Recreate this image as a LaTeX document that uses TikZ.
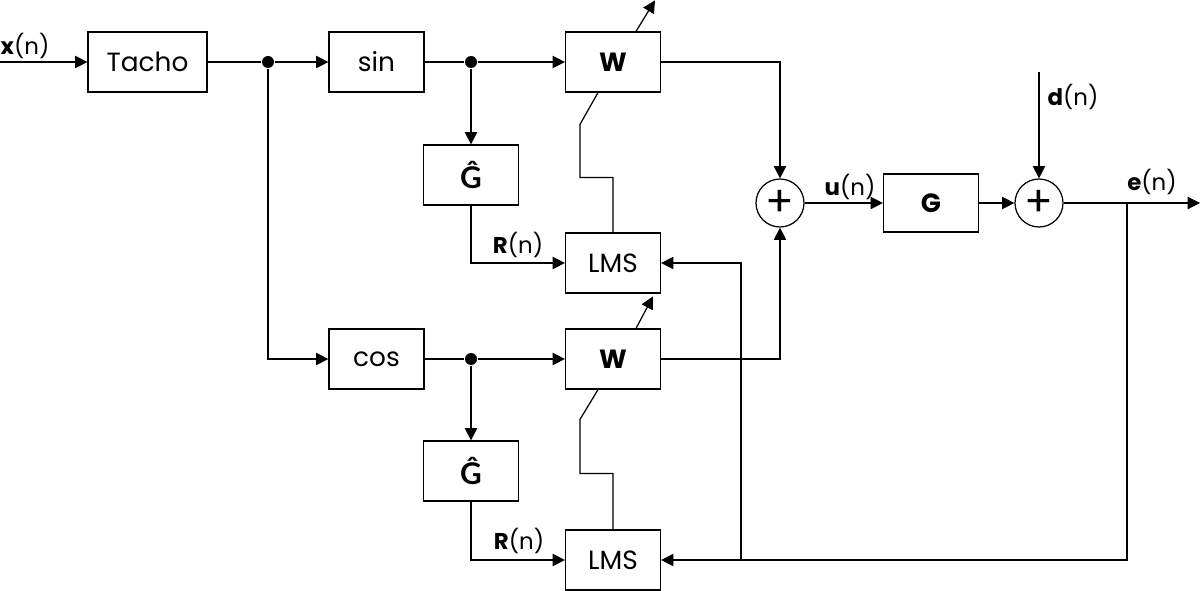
\documentclass[tikz,border=0pt]{standalone}
\usepackage{fontspec}
\setmainfont{Poppins}
\newfontfamily\chapfont{Lato}
\usetikzlibrary{shapes}
\usetikzlibrary{arrows.meta}
\usetikzlibrary{calc}
\tikzset{
	bloc/.style = {rectangle, draw=black, fill=white, align=center, inner sep=0pt,
		minimum width=1.9cm, minimum height=1.2cm, font=\fontsize{15}{18}\selectfont},% bloc simple
	bloc_l/.style = {bloc, minimum width=2.38cm},% bloc large (tachymetre)
	somme/.style = {circle, draw=black, fill=white, inner sep=0pt, minimum size=0.96cm,
		font=\fontsize{24}{26}\selectfont},% sommateur
	pt/.style = {circle, fill=black, inner sep=0pt, minimum size=0.24cm},% point de branchement
	lbl/.style = {inner sep=0pt, font=\fontsize{13}{16}\selectfont}% etiquette de signal
}

\begin{document}
\begin{tikzpicture}[x=0.02cm, y=-0.02cm, line width=0.7pt,
		>={Triangle[length=7pt,width=7pt]}]
	\useasboundingbox (0,0) rectangle (1200,591);
	\node [bloc_l] (tacho) at (147.5,62) {Tacho};
	\node [bloc] (sin) at (376.5,62) {sin};
	\node [bloc] (w1) at (613,62) {\textbf{W}};
	\node [bloc] (g1) at (471,175) {\chapfont\bfseries\fontsize{17}{20}\selectfont Ĝ};
	\node [bloc] (lms1) at (613,263) {LMS};
	\node [bloc] (cos) at (376.5,359) {cos};
	\node [bloc] (w2) at (613,359) {\textbf{W}};
	\node [bloc] (g2) at (471,471) {\chapfont\bfseries\fontsize{17}{20}\selectfont Ĝ};
	\node [bloc] (lms2) at (613,560) {LMS};
	\node [somme] (s1) at (780,203) {+};
	\node [bloc, minimum height=1.16cm] (g) at (931,203) {\textbf{G}};
	\node [somme] (s2) at (1039,203) {+};
	\node [pt] (p1) at (268,62) {};
	\node [pt] (p2) at (471,62) {};
	\node [pt] (p3) at (471,359) {};
	\coordinate (xin) at (0,62);
	\coordinate (din) at (1039,72);
	\coordinate (eout) at (1200,203);
	\coordinate (t1) at (1127,203);
	\coordinate (t2) at (741,560);
	\draw[->] (xin) -- (tacho);
	\draw (tacho) -- (p1);
	\draw[->] (p1) -- (sin);
	\draw[->] (p1) |- (cos);
	\draw (sin) -- (p2);
	\draw[->] (p2) -- (w1);
	\draw[->] (p2) -- (g1);
	\draw[->] (g1) |- (lms1);
	\draw (cos) -- (p3);
	\draw[->] (p3) -- (w2);
	\draw[->] (p3) -- (g2);
	\draw[->] (g2) |- (lms2);
	\draw[->] (w1) -| (s1);
	\draw[->] (w2) -| (s1);
	\draw[->] (s1) -- (g);
	\draw[->] (g) -- (s2);
	\draw[->] (din) -- (s2);
	\draw[->] (s2) -- (eout);
	\draw[->] (t1) |- (lms2);
	\draw[->] (t2) |- (lms1);
	\draw (lms1.north) -- ++(0,-55) -- ++(-33,0) -- ++(0,-53) -- ($(w1.south)+(-15,0)$);
	\draw[->] ($(w1.north)+(23,0)$) -- ++(19,-31);
	\draw (lms2.north) -- ++(0,-56) -- ++(-33,0) -- ++(0,-54) -- ($(w2.south)+(-15,0)$);
	\draw[->] ($(w2.north)+(23,0)$) -- ++(17,-32);
	\node [lbl] (lx) at (25,46) {\textbf{x}(n)};
	\node [lbl] (lr1) at (518,245) {\textbf{R}(n)};
	\node [lbl] (lr2) at (519,541) {\textbf{R}(n)};
	\node [lbl] (lu) at (850,187) {\textbf{u}(n)};
	\node [lbl] (ld) at (1073,97) {\textbf{d}(n)};
	\node [lbl] (le) at (1152,182) {\textbf{e}(n)};
\end{tikzpicture}
\end{document}
